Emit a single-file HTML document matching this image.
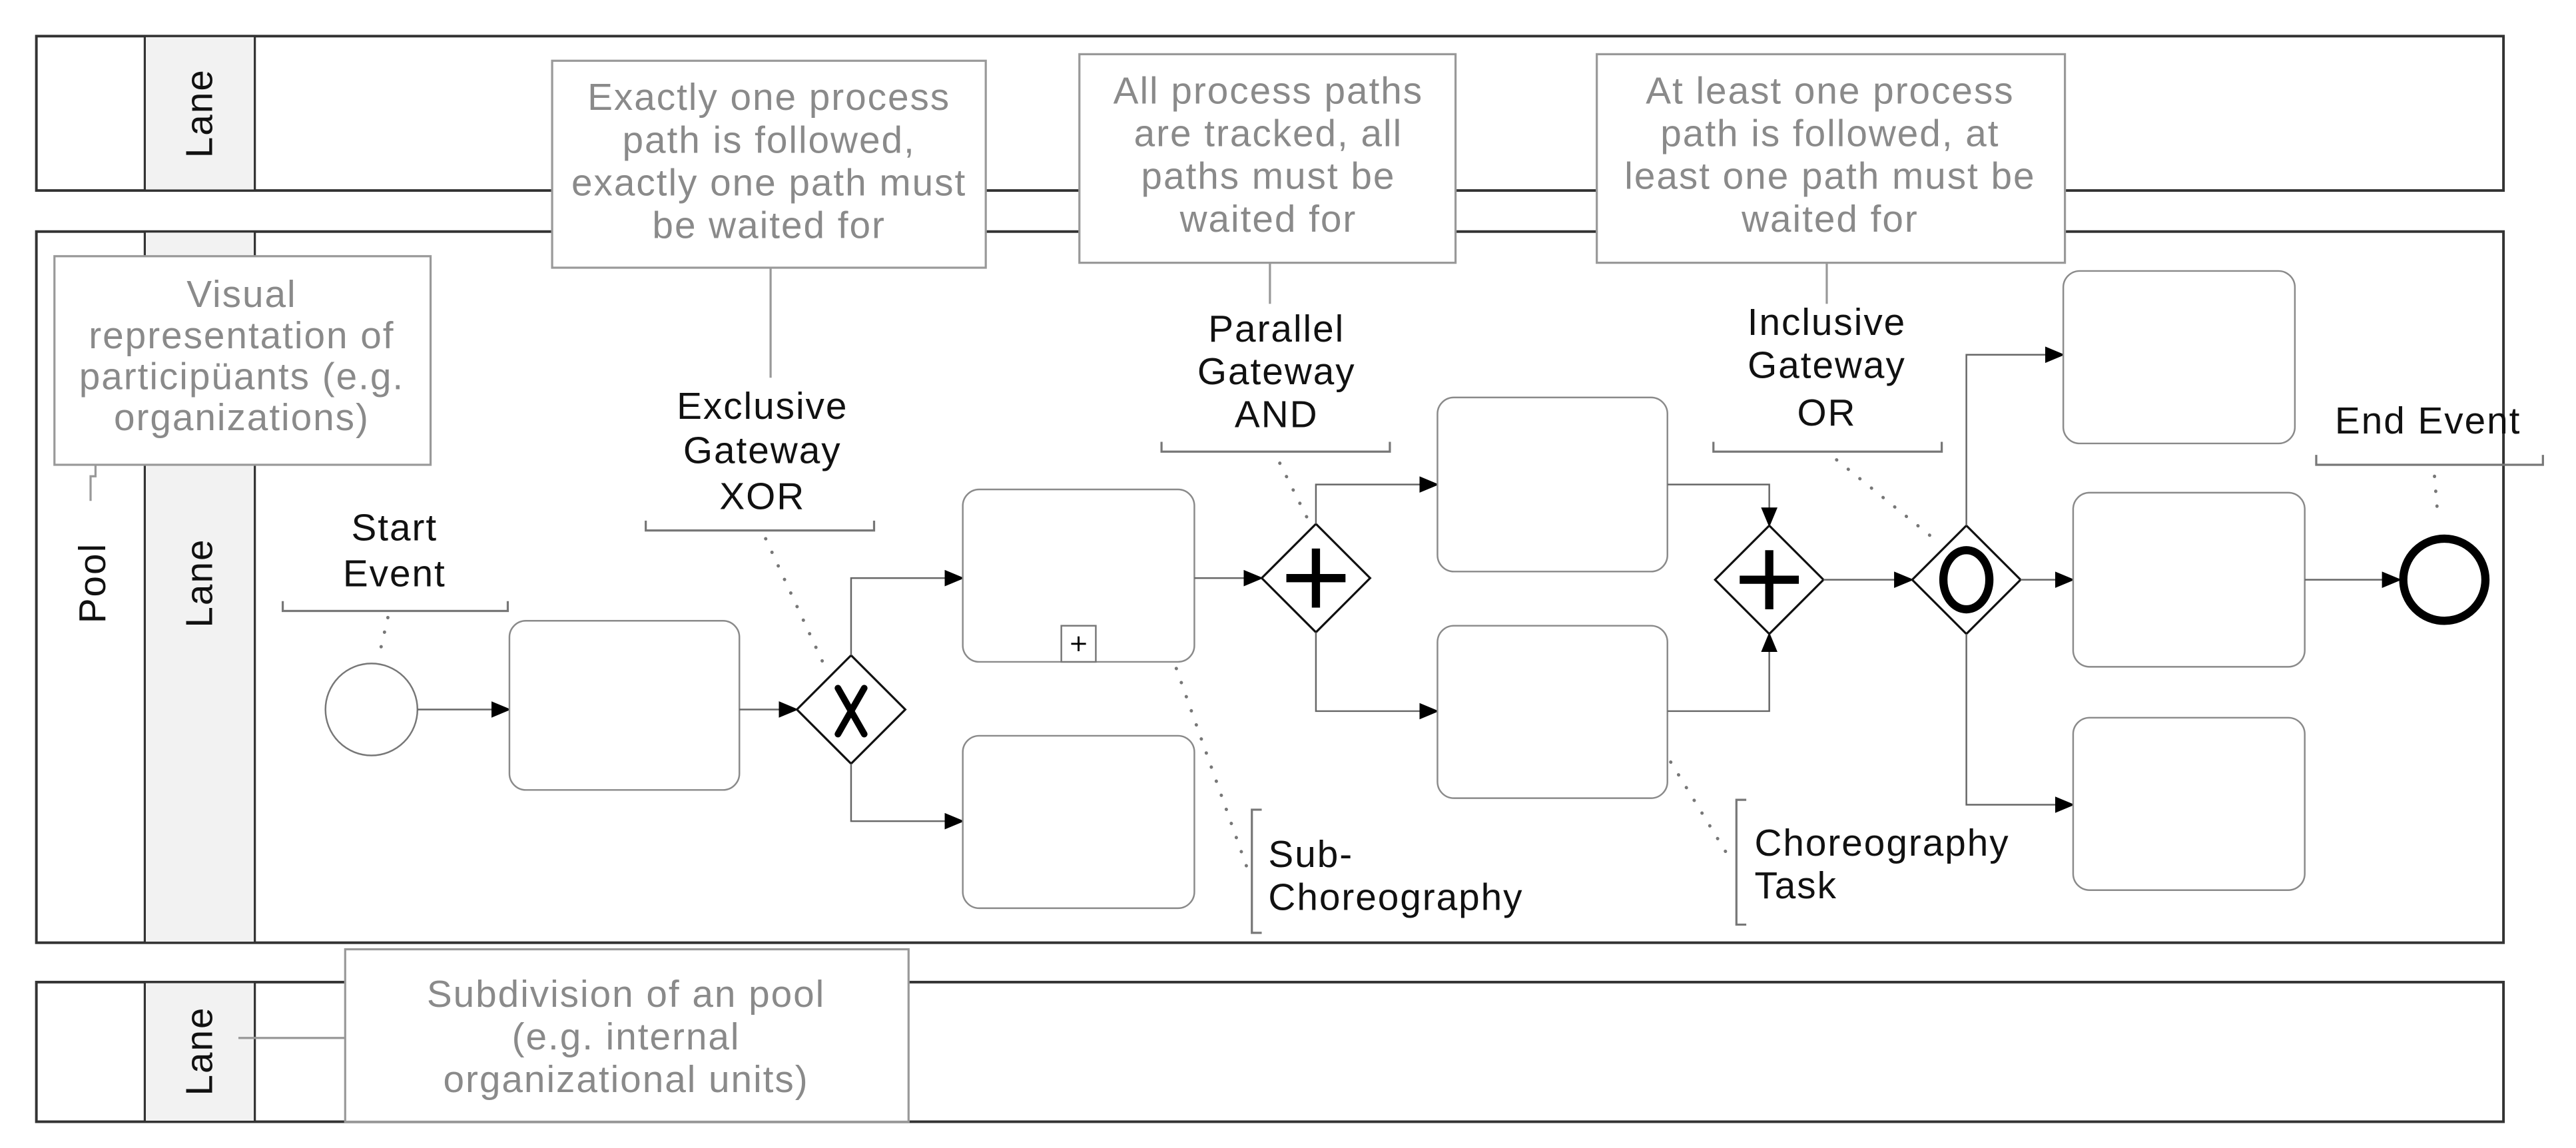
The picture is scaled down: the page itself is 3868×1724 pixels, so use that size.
<!DOCTYPE html>
<html><head><meta charset="utf-8"><style>
html,body{margin:0;padding:0;background:#fff;}
svg{display:block;}
text{font-family:"Liberation Sans",sans-serif;letter-spacing:0.8px;}
.g{fill:#8a8a8a;font-size:23px;text-anchor:middle;}
.b{fill:#111;font-size:23px;text-anchor:middle;}
.bl{fill:#111;font-size:23px;}
.cb{fill:#fff;stroke:#999;stroke-width:1.3;}
.t{fill:#fff;stroke:#8a8a8a;stroke-width:1;}
.f{fill:none;stroke:#666;stroke-width:1;}
.d{fill:none;stroke:#777;stroke-width:2;stroke-dasharray:0.1 9;stroke-linecap:round;}
.br{fill:none;stroke:#777;stroke-width:1.3;}
</style></head><body>
<svg width="3868" height="1724" viewBox="0 0 1568 699" xmlns="http://www.w3.org/2000/svg">
<defs><marker id="a" markerWidth="12" markerHeight="10" refX="11" refY="5" orient="auto" markerUnits="userSpaceOnUse"><path d="M0,0 L12,5 L0,10 Z" fill="#000"/></marker></defs>
<rect x="22" y="22" width="1502" height="94" fill="#fff" stroke="#333" stroke-width="1.6"/>
<rect x="88" y="22" width="67" height="94" fill="#f2f2f2" stroke="#333" stroke-width="1.3"/>
<text class="bl" transform="translate(129,69) rotate(-90)" text-anchor="middle">Lane</text>
<rect x="22" y="141" width="1502" height="433" fill="#fff" stroke="#333" stroke-width="1.6"/>
<rect x="88" y="141" width="67" height="433" fill="#f2f2f2" stroke="#333" stroke-width="1.3"/>
<text class="bl" transform="translate(64,355) rotate(-90)" text-anchor="middle">Pool</text>
<text class="bl" transform="translate(129,355) rotate(-90)" text-anchor="middle">Lane</text>
<rect x="22" y="598" width="1502" height="85" fill="#fff" stroke="#333" stroke-width="1.6"/>
<rect x="88" y="598" width="67" height="85" fill="#f2f2f2" stroke="#333" stroke-width="1.3"/>
<text class="bl" transform="translate(129,640) rotate(-90)" text-anchor="middle">Lane</text>

<rect class="cb" x="33" y="156" width="229" height="127"/>
<text class="g" x="147" y="187">Visual</text>
<text class="g" x="147" y="212">representation of</text>
<text class="g" x="147" y="237">participüants (e.g.</text>
<text class="g" x="147" y="262">organizations)</text>
<path d="M58,283 V290 H55 V305" fill="none" stroke="#999" stroke-width="1.3"/>

<rect class="cb" x="336" y="37" width="264" height="126"/>
<text class="g" x="468" y="67">Exactly one process</text>
<text class="g" x="468" y="93">path is followed,</text>
<text class="g" x="468" y="119">exactly one path must</text>
<text class="g" x="468" y="145">be waited for</text>
<line x1="469" y1="163" x2="469" y2="230" stroke="#999" stroke-width="1.3"/>

<rect class="cb" x="657" y="33" width="229" height="127"/>
<text class="g" x="772" y="63">All process paths</text>
<text class="g" x="772" y="89">are tracked, all</text>
<text class="g" x="772" y="115">paths must be</text>
<text class="g" x="772" y="141">waited for</text>
<line x1="773" y1="160" x2="773" y2="185" stroke="#999" stroke-width="1.3"/>

<rect class="cb" x="972" y="33" width="285" height="127"/>
<text class="g" x="1114" y="63">At least one process</text>
<text class="g" x="1114" y="89">path is followed, at</text>
<text class="g" x="1114" y="115">least one path must be</text>
<text class="g" x="1114" y="141">waited for</text>
<line x1="1112" y1="160" x2="1112" y2="185" stroke="#999" stroke-width="1.3"/>

<rect class="cb" x="210" y="578" width="343" height="105"/>
<text class="g" x="381" y="613">Subdivision of an pool</text>
<text class="g" x="381" y="639">(e.g. internal</text>
<text class="g" x="381" y="665">organizational units)</text>
<line x1="145" y1="632" x2="210" y2="632" stroke="#999" stroke-width="1.3"/>

<text class="b" x="240" y="329">Start</text>
<text class="b" x="240" y="357">Event</text>
<path class="br" d="M172,366 V372 H309 V366"/>
<path class="d" d="M236,376 L230,402"/>

<text class="b" x="464" y="255">Exclusive</text>
<text class="b" x="464" y="282">Gateway</text>
<text class="b" x="464" y="310">XOR</text>
<path class="br" d="M393,317 V323 H532 V317"/>
<path class="d" d="M466,328 L503,408"/>

<text class="b" x="777" y="208">Parallel</text>
<text class="b" x="777" y="234">Gateway</text>
<text class="b" x="777" y="260">AND</text>
<path class="br" d="M707,269 V275 H846 V269"/>
<path class="d" d="M779,282 L798,320"/>

<text class="b" x="1112" y="204">Inclusive</text>
<text class="b" x="1112" y="230">Gateway</text>
<text class="b" x="1112" y="259">OR</text>
<path class="br" d="M1043,269 V275 H1182 V269"/>
<path class="d" d="M1118,280 L1176,327"/>

<text class="b" x="1478" y="264">End Event</text>
<path class="br" d="M1410,277 V283 H1548 V277"/>
<path class="d" d="M1482,290 L1484,314"/>

<path class="br" d="M768,493 H762 V568 H768"/>
<text class="bl" x="772" y="528">Sub-</text>
<text class="bl" x="772" y="554">Choreography</text>
<path class="d" d="M716,407 L760,531"/>

<path class="br" d="M1063,487 H1057 V563 H1063"/>
<text class="bl" x="1068" y="521">Choreography</text>
<text class="bl" x="1068" y="547">Task</text>
<path class="d" d="M1017,464 L1055,526"/>

<circle cx="226" cy="432" r="28" fill="#fff" stroke="#777" stroke-width="1"/>
<line class="f" x1="254" y1="432" x2="310" y2="432" marker-end="url(#a)"/>
<rect class="t" x="310" y="378" width="140" height="103" rx="10"/>
<line class="f" x1="450" y1="432" x2="485" y2="432" marker-end="url(#a)"/>
<path d="M518,399 L551,432 L518,465 L485,432 Z" fill="#fff" stroke="#111" stroke-width="1.3"/>
<path d="M510,419 L526,447 M526,419 L510,447" stroke="#000" stroke-width="4" stroke-linecap="round"/>
<path class="f" d="M518,399 V352 H586" marker-end="url(#a)"/>
<path class="f" d="M518,465 V500 H586" marker-end="url(#a)"/>
<rect class="t" x="586" y="298" width="141" height="105" rx="10"/>
<rect x="646" y="381" width="21" height="22" fill="#fff" stroke="#777" stroke-width="1"/>
<path d="M652,392 H661 M656.5,387.5 V396.5" stroke="#000" stroke-width="1.2"/>
<rect class="t" x="586" y="448" width="141" height="105" rx="10"/>
<line class="f" x1="727" y1="352" x2="768" y2="352" marker-end="url(#a)"/>
<path d="M801,319 L834,352 L801,385 L768,352 Z" fill="#fff" stroke="#111" stroke-width="1.3"/>
<path d="M783,352 H819 M801,334 V370" stroke="#000" stroke-width="5"/>
<path class="f" d="M801,319 V295 H875" marker-end="url(#a)"/>
<path class="f" d="M801,385 V433 H875" marker-end="url(#a)"/>
<rect class="t" x="875" y="242" width="140" height="106" rx="10"/>
<rect class="t" x="875" y="381" width="140" height="105" rx="10"/>
<path class="f" d="M1015,295 H1077 V320" marker-end="url(#a)"/>
<path class="f" d="M1015,433 H1077 V386" marker-end="url(#a)"/>
<path d="M1077,320 L1110,353 L1077,386 L1044,353 Z" fill="#fff" stroke="#111" stroke-width="1.3"/>
<path d="M1059,353 H1095 M1077,335 V371" stroke="#000" stroke-width="5"/>
<line class="f" x1="1110" y1="353" x2="1164" y2="353" marker-end="url(#a)"/>
<path d="M1197,320 L1230,353 L1197,386 L1164,353 Z" fill="#fff" stroke="#111" stroke-width="1.3"/>
<ellipse cx="1197" cy="353" rx="14" ry="18" fill="none" stroke="#000" stroke-width="5"/>
<path class="f" d="M1197,320 V216 H1256" marker-end="url(#a)"/>
<line class="f" x1="1230" y1="353" x2="1262" y2="353" marker-end="url(#a)"/>
<path class="f" d="M1197,386 V490 H1262" marker-end="url(#a)"/>
<rect class="t" x="1256" y="165" width="141" height="105" rx="10"/>
<rect class="t" x="1262" y="300" width="141" height="106" rx="10"/>
<rect class="t" x="1262" y="437" width="141" height="105" rx="10"/>
<line class="f" x1="1403" y1="353" x2="1461" y2="353" marker-end="url(#a)"/>
<circle cx="1488" cy="353" r="25" fill="#fff" stroke="#000" stroke-width="5"/>
</svg>
</body></html>
